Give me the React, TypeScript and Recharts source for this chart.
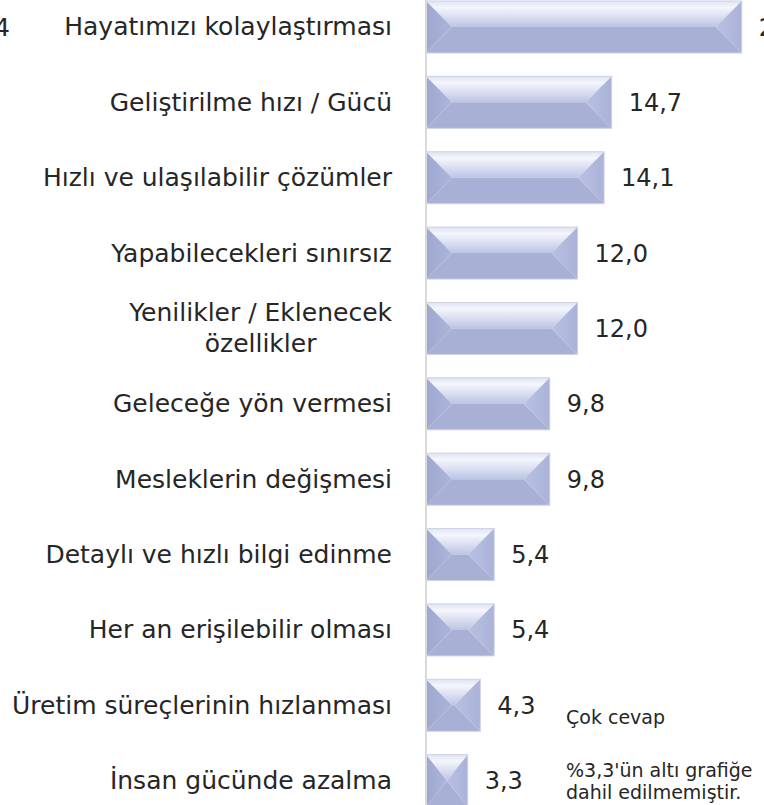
import React from 'react';
import { BarChart, Bar, XAxis, YAxis, LabelList } from 'recharts';

const categories = [
  'Hayatımızı kolaylaştırması',
  'Geliştirilme hızı / Gücü',
  'Hızlı ve ulaşılabilir çözümler',
  'Yapabilecekleri sınırsız',
  'Yenilikler / Eklenecek\nözellikler',
  'Geleceğe yön vermesi',
  'Mesleklerin değişmesi',
  'Detaylı ve hızlı bilgi edinme',
  'Her an erişilebilir olması',
  'Üretim süreçlerinin hızlanması',
  'İnsan gücünde azalma',
];
const values = [25.0, 14.7, 14.1, 12.0, 12.0, 9.8, 9.8, 5.4, 5.4, 4.3, 3.3];
const noteMulti = 'Çok cevap';
const noteLines = ["%3,3'ün altı grafiğe", 'dahil edilmemiştir.'];
const cutText = '4';

const data = categories.map((name, i) => ({ name, value: values[i] }));

const FONT = '"DejaVu Sans", sans-serif';
const FS = 25;
const VFS = 24;
const NFS = 19;
const TEXT = '#262626';

let ctx: CanvasRenderingContext2D | null = null;
function measure(t: string, size: number) {
  if (!ctx) ctx = document.createElement('canvas').getContext('2d');
  if (!ctx) return t.length * size * 0.55;
  ctx.font = `${size}px ${FONT}`;
  return ctx.measureText(t).width;
}

const Tick = (props: any) => {
  const { x, y, payload } = props;
  const lines = String(payload.value).split('\n');
  if (lines.length === 1) {
    return (
      <text x={x} y={y} dy="0.35em" textAnchor="end" fontFamily={FONT} fontSize={FS} fill={TEXT}>
        {lines[0]}
      </text>
    );
  }
  const w = Math.max(...lines.map((l) => measure(l, FS)));
  const cx = x - w / 2;
  const lh = 31;
  const start = y - ((lines.length - 1) * lh) / 2;
  return (
    <text textAnchor="middle" fontFamily={FONT} fontSize={FS} fill={TEXT}>
      {lines.map((l, i) => (
        <tspan key={i} x={cx} y={start + i * lh} dy="0.35em">
          {l}
        </tspan>
      ))}
    </text>
  );
};

const BevelBar = (props: any) => {
  const { x, y, width, height } = props;
  if (!width || width <= 0) return null;
  const h2 = height / 2;
  const b = Math.min(h2, width / 2);
  const my = y + h2;
  return (
    <g>
      <polygon
        points={`${x},${y} ${x + width},${y} ${x + width - b},${my} ${x + b},${my}`}
        fill="url(#bevelTop)"
      />
      <polygon
        points={`${x},${y + height} ${x + width},${y + height} ${x + width - b},${my} ${x + b},${my}`}
        fill="#a8b0d5"
      />
      <polygon points={`${x},${y} ${x + b},${my} ${x},${y + height}`} fill="url(#bevelLeft)" />
      <polygon
        points={`${x + width},${y} ${x + width - b},${my} ${x + width},${y + height}`}
        fill="url(#bevelRight)"
      />
      <rect x={x} y={y} width={width} height={height} fill="none" stroke="#cdd1e4" strokeWidth={1} />
    </g>
  );
};

export default function App() {
  return (
    <div
      style={{
        position: 'absolute',
        left: 0,
        top: 0,
        width: 764,
        height: 805,
        overflow: 'hidden',
        background: '#ffffff',
      }}
    >
      <div style={{ position: 'absolute', left: 0, top: -11 }}>
        <BarChart
          width={790}
          height={829}
          data={data}
          layout="vertical"
          margin={{ top: 0, right: 23, bottom: 0, left: 0 }}
          barSize={52}
        >
          <defs>
            <linearGradient id="bevelTop" x1="0" y1="0" x2="0" y2="1">
              <stop offset="0" stopColor="#dfe3f3" />
              <stop offset="0.25" stopColor="#f4f6fc" />
              <stop offset="1" stopColor="#bcc4e4" />
            </linearGradient>
            <linearGradient id="bevelLeft" x1="0" y1="0" x2="1" y2="0">
              <stop offset="0" stopColor="#9ea7cf" />
              <stop offset="1" stopColor="#adb5da" />
            </linearGradient>
            <linearGradient id="bevelRight" x1="0" y1="0" x2="1" y2="0">
              <stop offset="0" stopColor="#b9c1e2" />
              <stop offset="1" stopColor="#aab2d8" />
            </linearGradient>
          </defs>
          <XAxis type="number" domain={[0, 27]} hide />
          <YAxis
            type="category"
            dataKey="name"
            width={426}
            axisLine={{ stroke: '#d9d9d9', strokeWidth: 2 }}
            tickLine={false}
            tickSize={6}
            tickMargin={28}
            tick={<Tick />}
            interval={0}
          />
          <Bar dataKey="value" shape={<BevelBar />} isAnimationActive={false}>
            <LabelList
              dataKey="value"
              position="right"
              offset={17}
              formatter={(v: any) => Number(v).toFixed(1).replace('.', ',')}
              style={{ fontFamily: FONT, fontSize: VFS, fill: TEXT }}
            />
          </Bar>
        </BarChart>
      </div>
      <svg
        width={764}
        height={805}
        style={{ position: 'absolute', left: 0, top: 0, pointerEvents: 'none' }}
      >
        <text x={-6} y={27} dy="0.35em" fontFamily={FONT} fontSize={FS} fill={TEXT}>
          {cutText}
        </text>
        <text x={566} y={717} dy="0.35em" fontFamily={FONT} fontSize={NFS} fill={TEXT}>
          {noteMulti}
        </text>
        <text fontFamily={FONT} fontSize={NFS} fill={TEXT}>
          {noteLines.map((l, i) => (
            <tspan key={i} x={566} y={770 + i * 22} dy="0.35em">
              {l}
            </tspan>
          ))}
        </text>
      </svg>
    </div>
  );
}
